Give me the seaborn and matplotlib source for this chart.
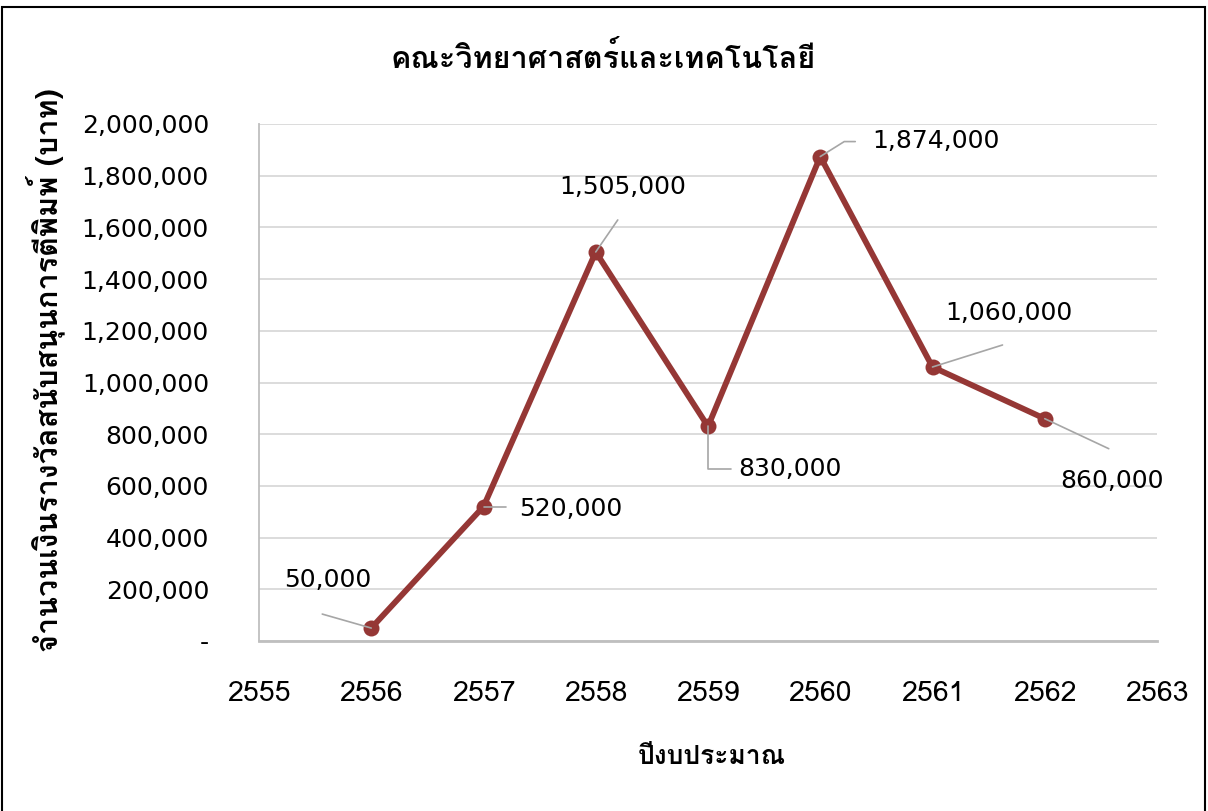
import numpy as np
import pandas as pd
import matplotlib
matplotlib.use("Agg")
import matplotlib.pyplot as plt
import matplotlib.transforms as mtransforms
from matplotlib.patches import Rectangle
from matplotlib import font_manager as fm
from matplotlib.ft2font import FT2Font
import seaborn as sns

# ---- data ----
years = [2556, 2557, 2558, 2559, 2560, 2561, 2562]
amounts = [50000, 520000, 1505000, 830000, 1874000, 1060000, 860000]
title = "คณะวิทยาศาสตร์และเทคโนโลยี"
xlabel = "ปีงบประมาณ"
ylabel = "จำนวนเงินรางวัลสนับสนุนการตีพิมพ์ (บาท)"
xticks = [2555, 2556, 2557, 2558, 2559, 2560, 2561, 2562, 2563]
yticks = [0, 200000, 400000, 600000, 800000, 1000000, 1200000, 1400000,
          1600000, 1800000, 2000000]

# label offsets (pixels) of text centre from point, and leader polylines
label_offsets = [(-44, 48), (87, -2), (27, 65), (82, -43), (116, 16), (76, 54), (67, -62)]
leaders = [
    [(-49, 14), (0, 0)],
    [(0, 0), (22, 0)],
    [(0, 0), (22, 32)],
    [(0, 0), (0, -43), (23, -43)],
    [(0, 0), (24, 15), (35, 15)],
    [(0, 0), (70, 22)],
    [(0, 0), (64, -30)],
]

# ---- find a font with Thai glyphs ----
thai_font = None
for f in fm.fontManager.ttflist:
    try:
        ft = FT2Font(f.fname)
        if 0x0E04 in ft.get_charmap():
            thai_font = f.name
            break
    except Exception:
        pass

sns.set_theme(style="whitegrid")
families = ([thai_font] if thai_font else []) + ["DejaVu Sans"]
plt.rcParams["font.family"] = families
plt.rcParams["text.color"] = "black"
plt.rcParams["xtick.color"] = "black"
plt.rcParams["ytick.color"] = "black"

DPI = 100
fig = plt.figure(figsize=(12.08, 8.11), dpi=DPI)
ax = fig.add_axes([259 / 1208, 1 - 641 / 811, (1157 - 259) / 1208, (641 - 124) / 811])

df = pd.DataFrame({"year": years, "amount": amounts})
line_color = "#953735"
sns.lineplot(data=df, x="year", y="amount", ax=ax, color=line_color,
             linewidth=4.2, marker="o", markersize=11.5, markeredgewidth=0,
             markerfacecolor=line_color, zorder=3)

ax.set_xlim(2555, 2563)
ax.set_ylim(0, 2000000)
ax.set_xticks(xticks)
ax.set_xticklabels([str(x) for x in xticks], family=families, fontsize=20.5)
ax.set_yticks(yticks)
ax.set_yticklabels(["-" if v == 0 else f"{v:,}" for v in yticks],
                   family=["DejaVu Sans"], fontsize=18)
ax.tick_params(axis="x", length=0, pad=29, colors="black")
ax.tick_params(axis="y", length=0, pad=36, colors="black")

ax.grid(axis="y", color="#D9D9D9", linewidth=1.3)
ax.grid(axis="x", visible=False)
for s in ["top", "right"]:
    ax.spines[s].set_visible(False)
ax.spines["left"].set_color("#BFBFBF")
ax.spines["left"].set_linewidth(1.3)
ax.spines["bottom"].set_color("#BFBFBF")
ax.spines["bottom"].set_linewidth(2)
ax.set_facecolor("white")
ax.set_xlabel("")
ax.set_ylabel("")

# data labels with leader lines
for x, y, (dx, dy), pts in zip(years, amounts, label_offsets, leaders):
    verts_x = [p[0] / DPI for p in pts]
    verts_y = [p[1] / DPI for p in pts]
    tr = fig.dpi_scale_trans + mtransforms.ScaledTranslation(x, y, ax.transData)
    ax.plot(verts_x, verts_y, transform=tr, color="#A6A6A6", linewidth=1.2,
            zorder=4, clip_on=False)
    ax.annotate(f"{y:,}", xy=(x, y), xytext=(dx * 72 / DPI, dy * 72 / DPI),
                textcoords="offset points", ha="center", va="center",
                fontsize=18, family=["DejaVu Sans"], color="black", zorder=5)

fig.text(603 / 1208, 1 - 58 / 811, title, ha="center", va="center",
         fontsize=22, fontweight="bold", family=families, color="black")
fig.text(712 / 1208, 1 - 757 / 811, xlabel, ha="center", va="center",
         fontsize=19, fontweight="bold", family=families, color="black")
fig.text(45 / 1208, 1 - 370 / 811, ylabel, ha="center", va="center",
         rotation=90, fontsize=22, fontweight="bold", family=families, color="black")

# outer border
fig.patches.append(Rectangle((2 / 1208, -0.01), 1203 / 1208, 1 - 7 / 811 + 0.01,
                             transform=fig.transFigure, fill=False,
                             edgecolor="black", linewidth=1.5, zorder=10))

fig.savefig("out.png", dpi=DPI, facecolor="white")
